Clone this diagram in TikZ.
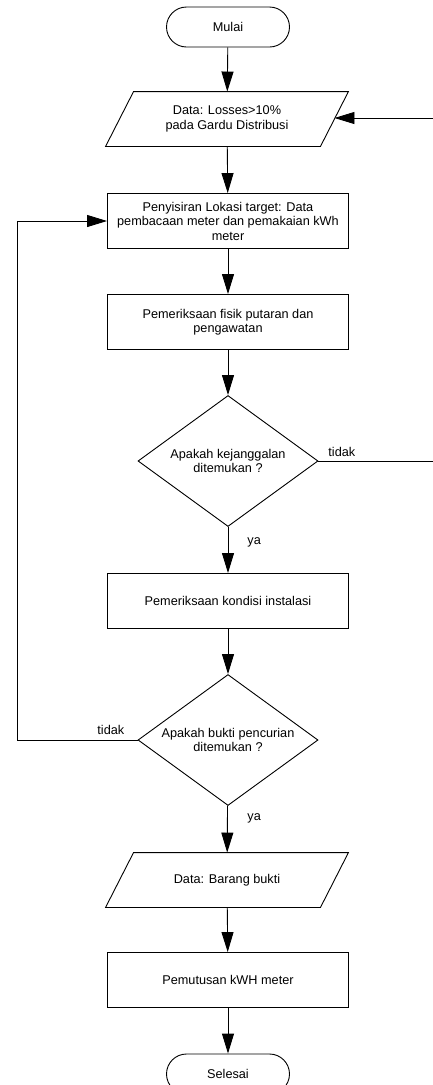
\documentclass[tikz,border=0pt]{standalone}
\usepackage{fontspec}
\setmainfont{Liberation Sans}
\usetikzlibrary{shapes.geometric,arrows.meta}
\tikzset{
	proses/.style={rectangle,draw,minimum width=241pt,minimum height=55pt,align=center,inner sep=2pt},
	terminal/.style={rectangle,draw,rounded corners=20pt,minimum width=123pt,minimum height=40pt},
	dataio/.style={rectangle,minimum width=214pt,minimum height=54pt,align=center,inner sep=2pt,
		append after command={\pgfextra{\draw ([xshift=14pt]\tikzlastnode.north west) -- ([xshift=14pt]\tikzlastnode.north east)
			-- ([xshift=-14pt]\tikzlastnode.south east) -- ([xshift=-14pt]\tikzlastnode.south west) -- cycle;}}},
	keputusan/.style={diamond,draw,aspect=1.37,minimum width=180pt,minimum height=131pt,inner sep=0pt,align=center},
	panah/.style={-{Triangle[length=20pt,width=12pt]}},
	ket/.style={inner sep=0pt,anchor=base west}
}

\begin{document}
\begin{tikzpicture}[x=1pt,y=-1pt,line width=0.9pt,font=\fontsize{12.7}{14.5}\selectfont]
	\useasboundingbox (0,0) rectangle (433,1085);
	\clip (0,0) rectangle (433,1085);

	\node [terminal] (mulai) at (228,27) {Mulai};
	\node [dataio] (data1) at (227,119) {Data: Losses>10\%\\pada Gardu Distribusi};
	\node [proses] (sisir) at (228,221) {Penyisiran Lokasi target: Data\\pembacaan meter dan pemakaian kWh\\meter};
	\node [proses] (fisik) at (228,322) {Pemeriksaan fisik putaran dan\\pengawatan};
	\node [keputusan] (cek1) at (228,461) {Apakah kejanggalan\\ditemukan ?};
	\node [proses] (instal) at (228,601) {Pemeriksaan kondisi instalasi};
	\node [keputusan] (cek2) at (228,740) {Apakah bukti pencurian\\ditemukan ?};
	\node [dataio] (data2) at (227,880) {Data: Barang bukti};
	\node [proses] (putus) at (228,980) {Pemutusan kWH meter};
	\node [terminal] (selesai) at (228,1074) {Selesai};

	\node [ket] (tidak1) at (328,456) {tidak};
	\node [ket] (ya1) at (247,544) {ya};
	\node [ket] (tidak2) at (97,734) {tidak};
	\node [ket] (ya2) at (247,820) {ya};

	\draw[panah] (mulai) -- (data1);
	\draw[panah] (data1) -- (sisir);
	\draw[panah] (sisir) -- (fisik);
	\draw[panah] (fisik) -- (cek1);
	\draw[panah] (cek1) -- (instal);
	\draw[panah] (instal) -- (cek2);
	\draw[panah] (cek2) -- (data2);
	\draw[panah] (data2) -- (putus);
	\draw[panah] (putus) -- (selesai);
	\draw[panah] (cek1.east) -- (440,461) |- ([yshift=1pt]data1.east);
	\draw[panah] (cek2.west) -- (17,740) |- (sisir.west);
\end{tikzpicture}
\end{document}
